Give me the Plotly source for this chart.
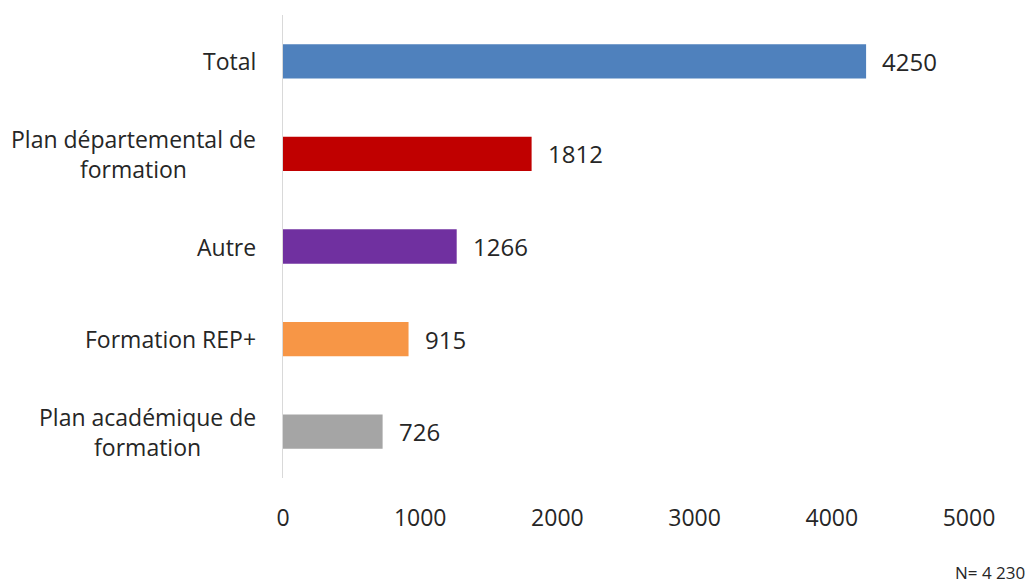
import plotly.graph_objects as go

categories = ["Total", "Plan départemental de<br>formation", "Autre",
              "Formation REP+", "Plan académique de<br>formation"]
values = [4250, 1812, 1266, 915, 726]
colors = ["#4F81BD", "#C00000", "#7030A0", "#F79646", "#A5A5A5"]
x_ticks = [0, 1000, 2000, 3000, 4000, 5000]
note = "N= 4 230"

W, H = 1035, 583
ML, MR, MT, MB = 283, 66, 15, 105
FONT = "Open Sans"
TXT = "#262626"
FS = 23

fig = go.Figure(go.Bar(
    y=list(range(len(categories))),
    x=values,
    orientation="h",
    marker=dict(color=colors, line=dict(width=0)),
    width=0.37,
    hoverinfo="skip",
))

# value labels just right of each bar end
for i, v in enumerate(values):
    fig.add_annotation(x=v, y=i, xref="x", yref="y", text=str(v),
                       showarrow=False, xanchor="left", xshift=14,
                       font=dict(family=FONT, size=24, color=TXT))

# category labels, right-aligned block with centred lines
label_x = -(ML - 258) / (W - ML - MR)
for i, c in enumerate(categories):
    fig.add_annotation(x=label_x, y=i, xref="paper", yref="y", text=c,
                       showarrow=False, xanchor="right", align="center",
                       font=dict(family=FONT, size=FS, color=TXT))

# sample size note, bottom right
fig.add_annotation(x=(1027 - ML) / (W - ML - MR),
                   y=-(572 - (H - MB)) / (H - MT - MB),
                   xref="paper", yref="paper", text=note,
                   showarrow=False, xanchor="right", yanchor="middle",
                   font=dict(family=FONT, size=17, color=TXT))

fig.update_layout(
    width=W, height=H,
    margin=dict(l=ML, r=MR, t=MT, b=MB),
    paper_bgcolor="white", plot_bgcolor="white",
    showlegend=False,
    font=dict(family=FONT, size=FS, color=TXT),
    xaxis=dict(range=[0, 5000], tickvals=x_ticks, ticktext=[str(t) for t in x_ticks],
               showgrid=False, zeroline=False, showline=False,
               ticks="outside", ticklen=19, tickcolor="rgba(0,0,0,0)",
               tickfont=dict(family=FONT, size=FS, color=TXT)),
    yaxis=dict(range=[4.5, -0.5], showticklabels=False, showgrid=False,
               zeroline=False, showline=True, linecolor="#D9D9D9", linewidth=1,
               ticks=""),
)

fig.write_html("out.html")
